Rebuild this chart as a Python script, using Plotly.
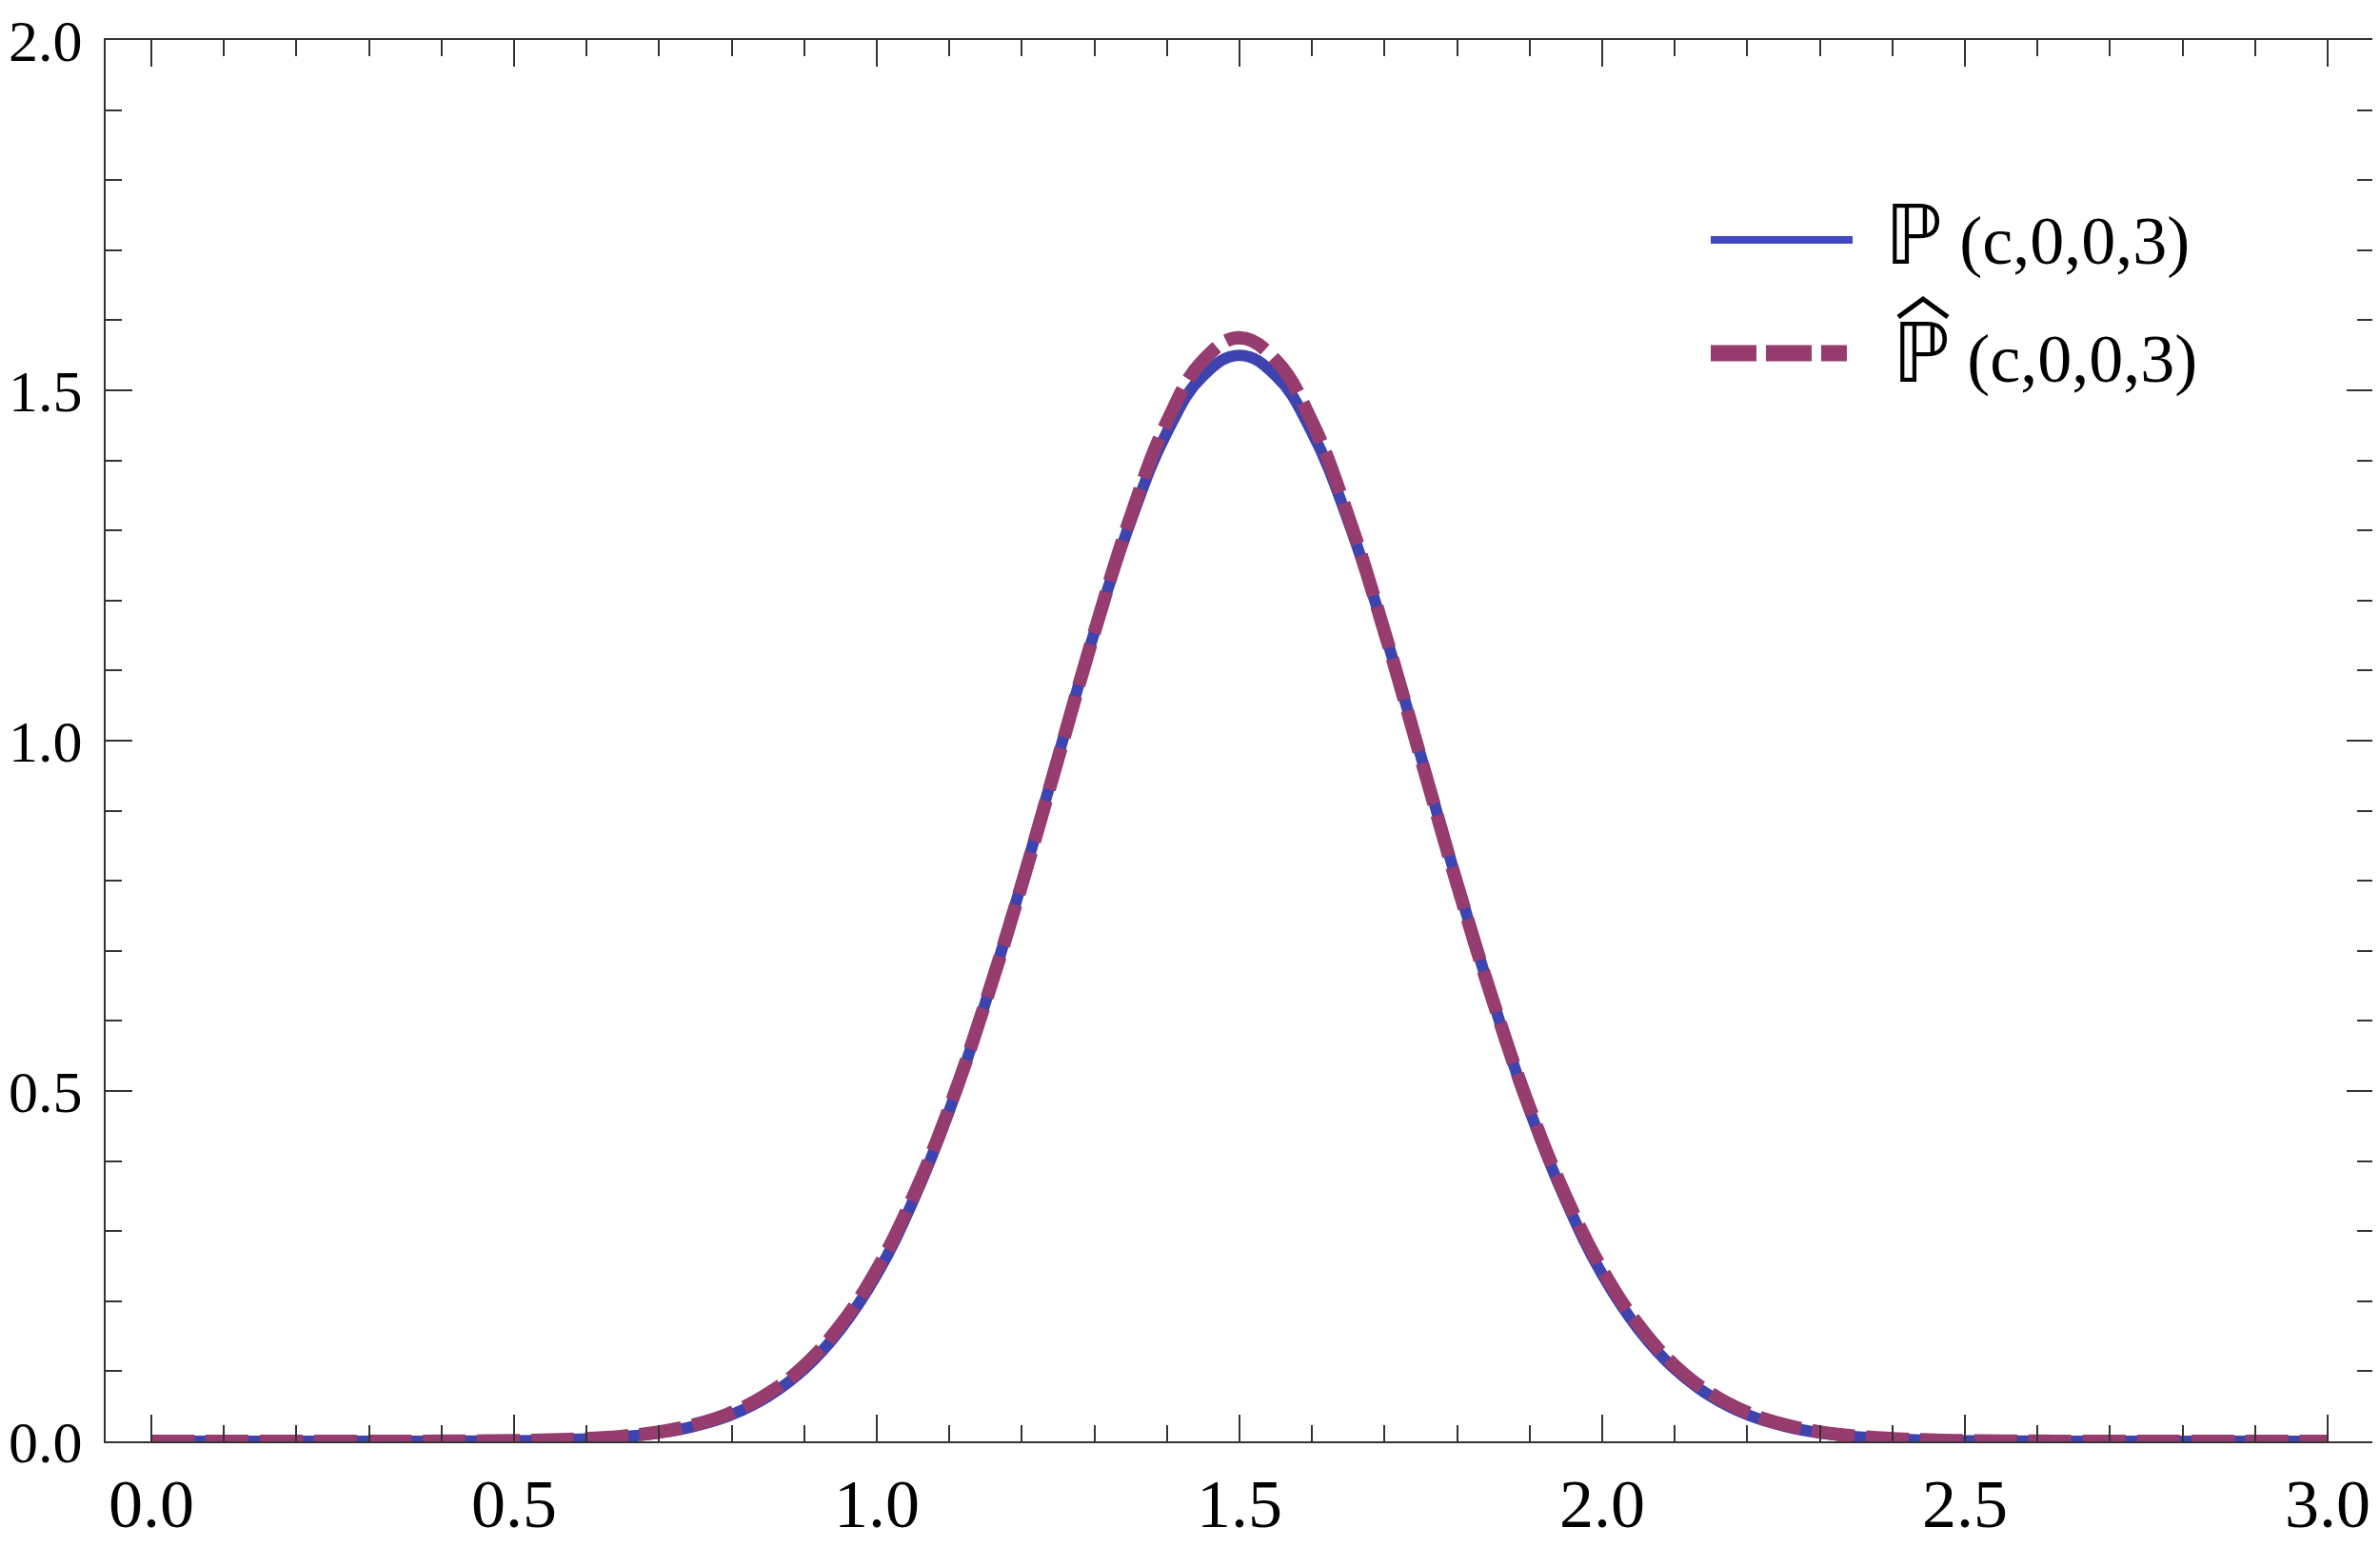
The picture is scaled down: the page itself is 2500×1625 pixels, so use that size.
import plotly.graph_objects as go

# values, x step 0.05 from 0 to 3
X_VALS = [round(i * 0.05, 2) for i in range(61)]

P_EXACT = [
    0, 0, 0, 0, 0, 0, 0, 0,
    0.0002, 0.0004, 0.0008, 0.0017, 0.0034, 0.0065, 0.012, 0.022,
    0.038, 0.064, 0.103, 0.160, 0.238, 0.343, 0.472, 0.627,
    0.798, 0.978, 1.155, 1.313, 1.440, 1.521, 1.550,
    1.521, 1.440, 1.313, 1.155, 0.978, 0.798, 0.627, 0.472,
    0.343, 0.238, 0.160, 0.103, 0.064, 0.038, 0.022, 0.012,
    0.0065, 0.0034, 0.0017, 0.0008, 0.0004, 0.0002,
    0, 0, 0, 0, 0, 0, 0, 0,
]

P_APPROX = [
    0, 0, 0, 0, 0, 0, 0, 0,
    0.0002, 0.0005, 0.0009, 0.0019, 0.0038, 0.0073, 0.0135, 0.024,
    0.041, 0.068, 0.108, 0.166, 0.245, 0.349, 0.476, 0.627,
    0.795, 0.975, 1.155, 1.320, 1.455, 1.543, 1.575,
    1.543, 1.455, 1.320, 1.155, 0.975, 0.795, 0.627, 0.476,
    0.349, 0.245, 0.166, 0.108, 0.068, 0.041, 0.024, 0.0135,
    0.0073, 0.0038, 0.0019, 0.0009, 0.0005, 0.0002,
    0, 0, 0, 0, 0, 0, 0, 0,
]

X_TICKS = [0.0, 0.5, 1.0, 1.5, 2.0, 2.5, 3.0]
Y_TICKS = [0.0, 0.5, 1.0, 1.5, 2.0]
P_SYMBOL = "ℙ"
ARGS_TEXT = "(c,0,0,3)"

BLUE = "#3d44b0"
PURPLE = "#963c6e"
AXIS = "#333333"
FONT = "Liberation Serif, Times New Roman, serif"

# page has an 8px body margin, so the figure is a bit smaller than the window
OFF = 8
W, H = 2492, 1617
L, R, T, B = 103, 7, 34, 111

fig = go.Figure()
fig.add_trace(go.Scatter(
    x=X_VALS, y=P_EXACT, mode="lines",
    line=dict(color=BLUE, width=12, shape="spline", smoothing=1.2),
    showlegend=False,
))
fig.add_trace(go.Scatter(
    x=X_VALS, y=P_APPROX, mode="lines",
    line=dict(color=PURPLE, width=14, dash="45px,12px", shape="spline", smoothing=1.2),
    showlegend=False,
))

axis_common = dict(
    showline=True, linecolor=AXIS, linewidth=2, mirror="ticks",
    ticks="inside", ticklen=28, tickwidth=1.5, tickcolor=AXIS,
    showgrid=False, zeroline=False, automargin=False,
    tickformat=".1f", ticklabeloverflow="allow",
    minor=dict(dtick=0.1, ticks="inside", ticklen=17, tickwidth=1.5,
               tickcolor=AXIS, showgrid=False),
)
fig.update_xaxes(range=[-0.063, 3.063], tickvals=X_TICKS,
                 ticklabelstandoff=2,
                 tickfont=dict(family=FONT, size=72, color="black"),
                 **axis_common)
fig.update_yaxes(range=[0, 2.0], tickvals=Y_TICKS,
                 ticklabelstandoff=10,
                 tickfont=dict(family=FONT, size=62, color="black"),
                 **axis_common)


# page pixel -> paper coordinates
def px(xp):
    return (xp - OFF - L) / (W - L - R)


def py(yp):
    return 1 - (yp - OFF - T) / (H - T - B)


# hand-drawn legend, as in the reference
fig.add_shape(type="line", xref="paper", yref="paper",
              x0=px(1797), x1=px(1946), y0=py(252), y1=py(252),
              line=dict(color="#4249c0", width=8))
fig.add_shape(type="line", xref="paper", yref="paper",
              x0=px(1797), x1=px(1940), y0=py(371), y1=py(371),
              line=dict(color=PURPLE, width=17, dash="48px,10px"))

legend_text = (f"<span style='font-family:DejaVu Sans;font-size:86px'>{P_SYMBOL}</span>"
               f" {ARGS_TEXT}")
fig.add_annotation(text=legend_text, xref="paper", yref="paper",
                   x=px(1978), y=py(247), xanchor="left", yanchor="middle",
                   showarrow=False,
                   font=dict(family=FONT, size=72, color="black"))
fig.add_annotation(text=legend_text, xref="paper", yref="paper",
                   x=px(1986), y=py(371), xanchor="left", yanchor="middle",
                   showarrow=False,
                   font=dict(family=FONT, size=72, color="black"))
# circumflex over the second P
fig.add_shape(type="path", xref="paper", yref="paper",
              path=(f"M {px(1994)},{py(333)} L {px(2020)},{py(314)} "
                    f"L {px(2046)},{py(333)}"),
              line=dict(color="black", width=5))

fig.update_layout(
    width=W, height=H,
    margin=dict(l=L, r=R, t=T, b=B, pad=0),
    paper_bgcolor="white", plot_bgcolor="white",
    showlegend=False,
)
fig.write_html("out.html")
